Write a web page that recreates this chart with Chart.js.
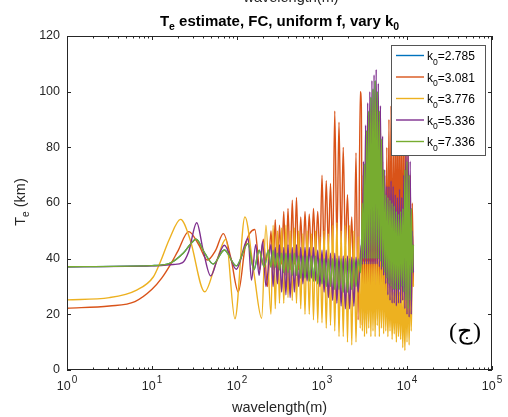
<!DOCTYPE html>
<html>
<head>
<meta charset="utf-8">
<script src="https://cdn.jsdelivr.net/npm/chart.js@4.4.1/dist/chart.umd.min.js"></script>
<style>
  html, body { margin: 0; padding: 0; background: #fff; }
  #wrap { width: 508px; height: 417px; }
</style>
</head>
<body>
<div id="wrap"><canvas id="teChart" width="508" height="417"></canvas></div>
<script>
// series labels (k0) and MATLAB default colours
const kValues = ["2.785", "3.081", "3.776", "5.336", "7.336"];
const lineColors = ["#0072BD", "#D95319", "#EDB120", "#7E2F8E", "#77AC30"];
const yTicks = [0, 20, 40, 60, 80, 100, 120];
const xDecades = [1, 10, 100, 1000, 10000, 100000];
const xExponents = ["0", "1", "2", "3", "4", "5"];

// smooth part of each curve: wavelength (m) and Te (km)
const orangeX = [1, 3.16, 6.3, 10, 13, 16.2, 20, 27, 35.5, 44.7, 56, 69, 85, 103.5, 126, 162, 186, 204, 229];
const orangeY = [22.2, 23, 24.6, 29, 33, 37.5, 42.5, 49.7, 45, 39.5, 43, 49, 40, 28, 45, 50.5, 36, 47, 30];

const yellowX = [1, 3.16, 6.6, 10.4, 12.6, 16, 21.7, 28, 41.7, 56, 74, 94.6, 124, 158, 195, 219];
const yellowY = [25.2, 26, 28.7, 33.5, 39, 47, 54.1, 47, 28.1, 38, 47, 18.4, 55, 35, 18.6, 52];

const purpleX = [1, 10, 17.8, 22.9, 27, 33.6, 40, 49, 59, 71, 98, 135, 148, 166, 182, 200, 219];
const purpleY = [37.1, 37.4, 37.9, 38.6, 42.5, 52.9, 43, 33.8, 40, 44.8, 36.2, 47.3, 32.3, 45, 34, 46, 30];

const greenX = [1, 10, 15.8, 23.4, 28, 33, 41.7, 52.5, 71, 98, 135, 158, 182, 209, 234];
const greenY = [37.1, 37.5, 38.2, 42, 45, 47, 42, 38.1, 43.1, 37.4, 45.5, 36, 43, 37, 43];

// blue curve lies under the green one
const blueX = greenX;
const blueY = greenY;

// oscillating part (shared wavelengths)
const denseX = [251, 266, 282, 299, 316, 335, 355, 376, 398, 422, 447, 473, 501, 531, 562, 596, 631, 668, 708, 750,
  794, 841, 891, 944, 1000, 1059, 1122, 1189, 1259, 1334, 1413, 1496, 1585, 1679, 1778, 1884, 1995, 2113, 2239, 2371,
  2512, 2661, 2818,
  2901, 2985, 3073, 3162, 3255, 3350, 3447, 3548, 3652, 3758, 3868, 3981, 4097, 4217, 4340, 4467, 4597, 4732, 4870, 5012,
  5158, 5309, 5464, 5623, 5788, 5957, 6131, 6310, 6494, 6683, 6879, 7079, 7286, 7499, 7718, 7943, 8175, 8414, 8660, 8913,
  9173, 9441, 9716, 10000, 10292, 10593, 10902, 11220, 11548, 11885];

const orangeDense = [50, 36, 54, 33, 52, 38, 57, 34, 58, 36, 61, 38, 62, 36, 55, 38, 57, 40, 56, 40,
  58, 42, 57, 40, 70, 42, 68, 44, 67, 42, 93, 46, 89, 45, 80, 44, 63, 38, 55, 30, 78, 18, 100,
  95, 16, 70, 18, 60, 20, 50, 22, 55, 25, 60, 28, 65, 30, 70, 30, 80, 30, 85, 28,
  75, 26, 70, 25, 80, 25, 90, 24, 95, 22, 85, 25, 98, 22, 92, 20, 100, 24, 88, 25,
  95, 22, 85, 25, 78, 24, 70, 26, 60, 30];

const yellowDense = [20, 52, 22, 50, 24, 51, 24, 52, 26, 50, 25, 51, 24, 50, 22, 49, 20, 50, 20, 49,
  18, 50, 17, 48, 17, 50, 15, 49, 16, 52, 14, 53, 12, 50, 12, 52, 10, 52, 9, 50, 10, 48, 15,
  39, 14, 39, 12, 39, 13, 39, 15, 39, 12, 39, 14, 39, 12, 39, 16, 39, 12, 39, 15,
  39, 13, 38, 14, 33, 12, 30, 14, 30, 11, 28, 13, 29, 10, 30, 12, 28, 11, 30, 8,
  28, 7, 30, 10, 32, 9, 34, 14, 35, 30];

const purpleDense = [45, 30, 44, 31, 45, 28, 44, 27, 45, 26, 44, 28, 45, 30, 44, 31, 44, 32, 44, 33,
  44, 32, 43, 30, 43, 28, 43, 26, 42, 25, 42, 24, 41, 23, 41, 22, 41, 22, 40.5, 23, 40.5, 28, 40,
  45, 38, 75, 38, 88, 38, 96, 38, 100, 38, 104, 38, 106, 38, 108, 38, 103, 37, 95, 36,
  84, 34, 72, 31, 66, 27, 66, 25, 68, 24, 66, 24, 63, 23, 62, 24, 65, 24, 62, 25,
  70, 22, 80, 20, 82, 19, 75, 20, 50, 35];

const greenDense = [37, 43, 37, 42, 36, 42, 35, 42, 35, 42, 34, 42, 34, 41, 33, 41, 33, 41, 32, 41,
  32, 41, 31, 40, 31, 40, 30, 40, 30, 40, 29, 40, 29, 40, 28, 40, 28, 40, 29, 40, 30, 40, 35,
  40, 60, 40, 74, 40, 86, 40, 93, 40, 98, 40, 101, 40, 104, 40, 100, 40, 93, 39, 83,
  37, 72, 35, 63, 33, 62, 31, 61, 30, 60, 29, 59, 29, 57, 29, 56, 29, 57, 30, 58,
  28, 72, 25, 75, 22, 70, 25, 58, 35, 45];

const blueDense = greenDense;

function toPoints(xs, ys) {
  return xs.map((x, i) => ({ x: x, y: ys[i] }));
}

const seriesX = [blueX, orangeX, yellowX, purpleX, greenX];
const seriesY = [blueY, orangeY, yellowY, purpleY, greenY];
const seriesDense = [blueDense, orangeDense, yellowDense, purpleDense, greenDense];

const datasets = kValues.map((k, i) => ({
  label: "k0=" + k,
  data: toPoints(seriesX[i].concat(denseX), seriesY[i].concat(seriesDense[i])),
  borderColor: lineColors[i],
  borderWidth: 1.4,
  pointRadius: 0,
  fill: false,
  cubicInterpolationMode: "monotone",
  order: 5 - i, // later series drawn on top, as in MATLAB
}));

const axisColor = "#262626";
const sansFont = "'Liberation Sans', Arial, Helvetica, sans-serif";

// draw text with optional subscripts: parts = [[text, isSub], ...]
function drawParts(ctx, parts, x, y, size, bold, align, subScale, subDrop) {
  const weight = bold ? "bold " : "";
  const subSize = size * subScale;
  let total = 0;
  const widths = parts.map(([t, sub]) => {
    ctx.font = weight + (sub ? subSize : size) + "px " + sansFont;
    const w = ctx.measureText(t).width;
    total += w;
    return w;
  });
  let cx = align === "center" ? x - total / 2 : x;
  ctx.textAlign = "left";
  ctx.textBaseline = "alphabetic";
  parts.forEach(([t, sub], i) => {
    ctx.font = weight + (sub ? subSize : size) + "px " + sansFont;
    ctx.fillText(t, cx, sub ? y + subDrop : y);
    cx += widths[i];
  });
}

const framePlugin = {
  id: "frame",
  afterDraw(chart) {
    const { ctx, chartArea: a } = chart;
    const xs = chart.scales.x;
    const ys = chart.scales.y;
    ctx.save();
    ctx.strokeStyle = axisColor;
    ctx.fillStyle = axisColor;
    ctx.lineWidth = 1;

    // axes box
    ctx.strokeRect(a.left + 0.5, a.top + 0.5, a.right - a.left - 1, a.bottom - a.top - 1);

    // x ticks (major + minor), pointing inward, bottom and top
    ctx.beginPath();
    xDecades.forEach((d) => {
      for (let m = 1; m <= 9; m++) {
        const v = d * m;
        if (v > xDecades[xDecades.length - 1]) break;
        const px = Math.round(xs.getPixelForValue(v)) + 0.5;
        const len = m === 1 ? 4 : 2.5;
        ctx.moveTo(px, a.bottom);
        ctx.lineTo(px, a.bottom - len);
        ctx.moveTo(px, a.top);
        ctx.lineTo(px, a.top + len);
      }
    });
    // y ticks, left and right
    yTicks.forEach((t) => {
      const py = Math.round(ys.getPixelForValue(t)) + 0.5;
      ctx.moveTo(a.left, py);
      ctx.lineTo(a.left + 4, py);
      ctx.moveTo(a.right, py);
      ctx.lineTo(a.right - 4, py);
    });
    ctx.stroke();

    // x tick labels 10^n
    xDecades.forEach((d, i) => {
      const px = xs.getPixelForValue(d);
      ctx.font = "12.5px " + sansFont;
      const wb = ctx.measureText("10").width;
      ctx.font = "10px " + sansFont;
      const we = ctx.measureText(xExponents[i]).width;
      const left = px - (wb + we + 1) / 2;
      ctx.textAlign = "left";
      ctx.textBaseline = "alphabetic";
      ctx.font = "12.5px " + sansFont;
      ctx.fillText("10", left, 389.5);
      ctx.font = "10px " + sansFont;
      ctx.fillText(xExponents[i], left + wb + 1, 382.5);
    });

    // x label
    ctx.font = "14.5px " + sansFont;
    ctx.textAlign = "center";
    ctx.fillText("wavelength(m)", (a.left + a.right) / 2, 412);
    // clipped label from the panel above
    ctx.fillText("wavelength(m)", 291, 1.5);

    // title
    ctx.fillStyle = "#000";
    drawParts(ctx, [["T", false], ["e", true], [" estimate, FC, uniform f, vary k", false], ["0", true]],
      (a.left + a.right) / 2, 26, 15, true, "center", 0.7, 3.5);

    // y label (rotated)
    ctx.fillStyle = axisColor;
    ctx.save();
    ctx.translate(25, 202);
    ctx.rotate(-Math.PI / 2);
    drawParts(ctx, [["T", false], ["e", true], [" (km)", false]], 0, 0, 14.5, false, "center", 0.7, 3.5);
    ctx.restore();

    // legend
    const lx = 391.5, ly = 45.5, lw = 94, lh = 110;
    ctx.fillStyle = "#fff";
    ctx.fillRect(lx, ly, lw, lh);
    ctx.strokeStyle = "#555";
    ctx.lineWidth = 1;
    ctx.strokeRect(lx, ly, lw, lh);
    chart.data.datasets.forEach((ds, i) => {
      const rowY = 55.5 + i * 21.5;
      ctx.strokeStyle = lineColors[i];
      ctx.lineWidth = 1.4;
      ctx.beginPath();
      ctx.moveTo(396, rowY);
      ctx.lineTo(424, rowY);
      ctx.stroke();
      ctx.fillStyle = "#000";
      drawParts(ctx, [["k", false], ["0", true], ["=" + kValues[i], false]], 427, rowY + 4.8, 12, false, "left", 0.72, 4.5);
    });

    // panel letter
    ctx.fillStyle = "#000";
    ctx.font = "24px 'Liberation Serif', 'DejaVu Serif', serif";
    ctx.textAlign = "center";
    ctx.fillText("(ج)", 465, 339);
    ctx.restore();
  },
};

new Chart(document.getElementById("teChart").getContext("2d"), {
  type: "line",
  data: { datasets: datasets },
  options: {
    responsive: false,
    animation: false,
    events: [],
    layout: { padding: { top: 36, right: 16, left: 0, bottom: 0 } },
    plugins: {
      legend: { display: false },
      title: { display: false },
      tooltip: { enabled: false },
    },
    scales: {
      x: {
        type: "logarithmic",
        min: xDecades[0],
        max: xDecades[xDecades.length - 1],
        grid: { display: false, drawTicks: false },
        border: { display: false },
        ticks: { display: false },
        afterFit(s) { s.height = 47; },
      },
      y: {
        min: yTicks[0],
        max: yTicks[yTicks.length - 1],
        grid: { display: false, drawTicks: false },
        border: { display: false },
        afterBuildTicks(s) { s.ticks = yTicks.map((v) => ({ value: v })); },
        ticks: {
          padding: 7,
          color: axisColor,
          font: { family: sansFont, size: 12.5 },
        },
        afterFit(s) { s.width = 67; },
      },
    },
  },
  plugins: [framePlugin],
});
</script>
</body>
</html>
